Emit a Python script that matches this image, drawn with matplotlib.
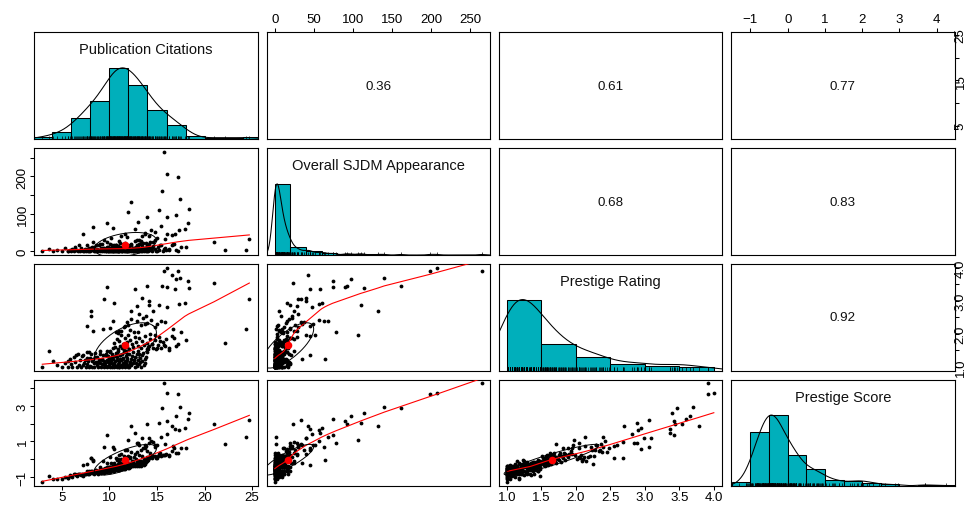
import numpy as np
import matplotlib
matplotlib.use("Agg")
import matplotlib.pyplot as plt

plt.rcParams['font.family'] = ['Liberation Sans', 'DejaVu Sans']

# ------------------------------------------------------------------ data
var_names = ["Publication Citations", "Overall SJDM Appearance",
             "Prestige Rating", "Prestige Score"]
# correlations shown in the upper panels (row-major upper triangle)
cor_values = [0.36, 0.61, 0.77, 0.68, 0.83, 0.92]

# group 1
cit_g1 = [2.95, 3.7, 4.1, 4.5, 5.0, 5.3, 5.6, 5.9, 6.0, 6.1,
          6.3, 6.4, 6.6, 6.7, 6.8, 6.9, 7.0, 7.1, 7.2, 7.3,
          7.4, 7.5, 7.6, 7.7, 7.8, 7.85, 7.95, 8.0, 8.1, 8.2,
          8.3, 8.35, 8.4, 8.5, 8.6, 8.7, 8.75, 8.8, 8.9, 9.0,
          9.05, 9.1, 9.2, 9.25, 9.3, 9.4, 9.45, 9.5, 9.6, 9.65,
          9.7, 9.8, 9.85, 9.9, 9.95, 10.0, 10.05, 10.1, 10.15, 10.2,
          10.25, 10.3, 10.35, 10.4, 10.45, 10.5, 10.55, 10.6, 10.65, 10.7,
          10.75, 10.8, 10.85, 10.9, 10.95, 11.0, 11.05, 11.1, 11.15, 11.2,
          11.25, 11.3, 11.35, 11.4, 11.45, 11.5, 11.55, 11.6, 11.65, 11.7,
          11.75, 11.8, 11.85, 11.9, 11.95, 10.02, 10.28, 10.52, 10.78, 11.02,
          11.28, 11.52, 11.78, 10.12, 10.62, 11.12, 11.62, 11.88, 12.05, 12.1,
          12.2, 12.25, 12.3, 12.4, 12.45, 12.5, 12.6, 12.65, 12.7, 12.8,
          12.85, 12.9, 13.0, 13.05, 13.1, 13.2, 13.25, 13.3, 13.4, 13.45,
          13.5, 13.6, 13.7, 13.75, 13.8, 13.9, 12.15, 12.55, 13.15, 14.05,
          14.2, 14.3, 14.5, 14.6, 14.8, 14.9, 15.1, 15.2, 15.4, 15.6,
          15.8, 15.9, 16.3, 17.2, 16.6]
sjdm_g1 = [0, 6, 0, 3, 0, 9, 0, 3, 0, 6,
           0, 12, 3, 0, 17, 0, 9, 3, 45, 0,
           6, 0, 15, 3, 0, 8, 6, 0, 9, 3,
           64, 0, 12, 3, 16, 0, 6, 0, 15, 3,
           0, 9, 0, 19, 6, 0, 3, 4, 0, 6,
           12, 3, 0, 10, 0, 6, 0, 9, 3, 0,
           17, 3, 0, 14, 6, 0, 9, 3, 0, 15,
           0, 6, 3, 0, 13, 6, 0, 12, 3, 0,
           9, 3, 0, 19, 6, 0, 3, 5, 0, 9,
           3, 0, 15, 6, 0, 3, 0, 8, 6, 0,
           11, 3, 0, 9, 0, 21, 6, 3, 0, 12,
           3, 0, 17, 6, 0, 7, 3, 9, 0, 6,
           10, 0, 3, 12, 0, 6, 18, 3, 0, 9,
           3, 0, 8, 6, 0, 15, 6, 0, 3, 0,
           9, 3, 0, 13, 6, 0, 12, 3, 17, 0,
           9, 3, 6, 0, 15]
rating_g1 = [1.00, 1.48, 1.18, 1.05, 1.00, 1.12, 1.00, 1.25, 1.08, 1.00,
             1.30, 1.15, 1.00, 1.40, 1.05, 1.20, 1.00, 1.33, 1.35, 1.10,
             1.22, 1.00, 1.45, 1.08, 1.18, 1.00, 1.28, 1.02, 1.38, 1.00,
             1.23, 1.12, 1.00, 1.42, 1.15, 1.05, 1.30, 1.00, 1.20, 1.10,
             1.48, 1.00, 1.25, 1.08, 1.35, 1.00, 1.18, 1.12, 1.40, 1.02,
             1.22, 1.00, 1.32, 1.15, 1.05, 1.28, 1.00, 1.45, 1.10, 1.20,
             1.00, 1.38, 1.05, 1.25, 1.12, 1.00, 1.33, 1.18, 1.42, 1.02,
             1.22, 1.00, 1.30, 1.08, 1.48, 1.15, 1.00, 1.25, 1.35, 1.05,
             1.20, 1.00, 1.40, 1.12, 1.28, 1.02, 1.45, 1.18, 1.00, 1.32,
             1.10, 1.22, 1.05, 1.38, 1.00, 1.15, 1.30, 1.08, 1.42, 1.00,
             1.25, 1.12, 1.48, 1.20, 1.02, 1.35, 1.05, 1.28, 1.00, 1.40,
             1.15, 1.25, 1.05, 1.33, 1.10, 1.45, 1.20, 1.00, 1.30, 1.12,
             1.38, 1.02, 1.22, 1.48, 1.08, 1.28, 1.15, 1.00, 1.35, 1.18,
             1.42, 1.05, 1.25, 1.12, 1.30, 1.45, 1.08, 1.22, 1.40, 1.55,
             1.62, 1.99, 1.70, 1.58, 1.80, 1.53, 1.66, 1.90, 1.57, 1.75,
             1.62, 1.84, 1.51, 1.68, 1.93]
score_g1 = [-1.30, -0.97, -1.10, -1.12, -1.11, -0.98, -1.05, -0.88, -0.97, -0.98,
            -0.83, -0.85, -0.94, -0.82, -0.84, -0.82, -0.88, -0.81, -0.31, -0.83,
            -0.82, -0.86, -0.65, -0.79, -0.82, -0.82, -0.74, -0.80, -0.66, -0.78,
            -0.06, -0.80, -0.81, -0.62, -0.63, -0.80, -0.65, -0.82, -0.65, -0.74,
            -0.55, -0.76, -0.65, -0.66, -0.57, -0.76, -0.65, -0.49, -0.54, -0.70,
            -0.47, -0.71, -0.55, -0.46, -0.68, -0.44, -0.70, -0.43, -0.62, -0.58,
            -0.48, -0.47, -0.64, -0.39, -0.47, -0.65, -0.45, -0.54, -0.43, -0.45,
            -0.52, -0.60, -0.46, -0.57, -0.26, -0.42, -0.60, -0.43, -0.40, -0.56,
            -0.45, -0.56, -0.37, -0.43, -0.40, -0.54, -0.31, -0.28, -0.54, -0.34,
            -0.47, -0.42, -0.44, -0.30, -0.51, -0.61, -0.52, -0.43, -0.39, -0.60,
            -0.33, -0.48, -0.29, -0.47, -0.63, -0.19, -0.41, -0.37, -0.50, -0.25,
            -0.40, -0.36, -0.39, -0.28, -0.41, -0.09, -0.34, -0.41, -0.29, -0.35,
            -0.14, -0.41, -0.29, -0.12, -0.36, -0.23, -0.13, -0.37, -0.20, -0.24,
            -0.14, -0.33, -0.13, -0.25, -0.18, -0.04, -0.43, -0.34, -0.18, -0.04,
            0.05, 0.22, 0.09, 0.15, 0.19, 0.05, 0.17, 0.27, 0.18, 0.22,
            0.21, 0.30, 0.19, 0.34, 0.46]

# group 2
cit_g2 = [5.6, 6.5, 7.2, 7.6, 7.9, 8.2, 8.5, 8.8, 9.0, 9.2,
          9.4, 9.6, 9.8, 9.9, 10.1, 10.2, 10.4, 10.5, 10.6, 10.8,
          10.9, 11.0, 11.1, 11.2, 11.3, 11.4, 11.5, 11.6, 11.7, 11.8,
          11.9, 11.95, 12.1, 12.2, 12.4, 12.5, 12.7, 12.8, 13.0, 13.1,
          13.3, 13.4, 13.6, 13.7, 13.9, 13.95, 14.1, 14.3, 14.5, 14.8,
          15.0, 15.3, 15.7, 16.3, 16.8, 17.0, 18.1, 22.1]
sjdm_g2 = [0, 2, 0, 5, 1, 12, 0, 3, 18, 2,
           7, 0, 25, 1, 4, 35, 0, 9, 3, 14,
           1, 6, 2, 40, 0, 11, 3, 22, 5, 1,
           8, 106, 2, 16, 4, 0, 28, 10, 3, 19,
           1, 13, 6, 45, 0, 7, 2, 24, 9, 52,
           1, 15, 5, 3, 20, 4, 12, 2]
rating_g2 = [1.18, 1.35, 1.05, 1.28, 1.45, 1.16, 1.30, 1.13, 1.40, 1.22,
             1.08, 1.35, 1.48, 1.18, 1.48, 1.25, 1.56, 1.72, 1.60, 1.85,
             1.54, 1.78, 1.64, 1.95, 1.58, 1.70, 1.52, 1.88, 1.66, 1.61,
             1.76, 1.97, 1.55, 1.82, 1.68, 1.59, 1.91, 1.74, 1.63, 1.86,
             1.57, 1.79, 1.67, 1.94, 1.53, 1.72, 1.60, 1.83, 1.69, 1.96,
             1.56, 1.77, 1.65, 1.58, 1.88, 1.63, 1.81, 1.71]
score_g2 = [-1.06, -0.87, -0.97, -0.76, -0.69, -0.69, -0.72, -0.74, -0.42, -0.67,
            -0.67, -0.59, -0.23, -0.63, -0.43, -0.20, -0.40, -0.21, -0.33, -0.07,
            -0.35, -0.17, -0.27, 0.30, -0.30, -0.12, -0.28, 0.11, -0.17, -0.23,
            -0.07, 1.10, -0.22, 0.08, -0.10, -0.18, 0.30, 0.03, -0.08, 0.22,
            -0.10, 0.15, 0.03, 0.60, -0.08, 0.10, 0.00, 0.37, 0.16, 0.79,
            0.06, 0.34, 0.21, 0.21, 0.60, 0.32, 0.60, 0.83]

# group 3
cit_g3 = [14.4, 15.0, 7.7, 8.3, 16.7, 17.5, 24.3, 11.5, 11.8, 12.3,
          12.6, 13.3, 13.7, 12.9, 12.2, 14.8, 10.4, 10.9, 10.1, 11.2,
          15.4, 13.0, 14.0, 11.0, 12.0, 9.3, 13.5, 10.7, 15.8, 11.6]
sjdm_g3 = [56, 35, 3, 24, 20, 10, 2, 12, 38, 18,
           8, 26, 49, 15, 6, 30, 63, 10, 20, 5,
           68, 78, 14, 28, 4, 9, 22, 16, 33, 45]
rating_g3 = [2.42, 2.30, 2.25, 2.09, 2.14, 2.04, 2.14, 2.20, 2.35, 2.45,
             2.05, 2.28, 2.30, 2.38, 2.12, 2.22, 2.40, 2.02, 2.18, 2.10,
             2.40, 2.04, 2.33, 2.08, 2.26, 2.15, 2.48, 2.06, 2.36, 2.24]
score_g3 = [1.02, 0.79, -0.29, -0.08, 0.72, 0.64, 1.26, 0.16, 0.54, 0.42,
            0.14, 0.52, 0.82, 0.41, 0.12, 0.68, 0.70, -0.01, 0.10, 0.00,
            1.24, 0.93, 0.48, 0.22, 0.15, -0.12, 0.60, 0.05, 0.88, 0.54]

# group 4
cit_g4 = [14.2, 14.2, 15.2, 16.1, 12.9, 14.6, 12.3, 13.1, 13.8, 8.1, 8.1, 17.9, 17.35, 10.5]
sjdm_g4 = [40, 19, 110, 47, 29, 25, 132, 30, 22, 5, 8, 60, 57, 15]
rating_g4 = [2.99, 2.88, 2.88, 2.82, 2.85, 2.68, 2.70, 2.60, 2.55, 2.68, 2.55, 2.95, 2.90, 2.95]
score_g4 = [1.21, 0.93, 2.01, 1.39, 0.90, 0.94, 1.88, 0.81, 0.76, 0.09, 0.06, 1.77, 1.66, 0.57]

# group 5
cit_g5 = [15.7, 16.0, 17.2, 17.0, 17.4, 18.3, 21.0, 16.6, 15.5, 18.4,
          9.8, 13.9, 16.0, 12.7, 9.4, 13.4, 24.7, 16.9]
sjdm_g5 = [265, 207, 199, 97, 140, 74, 23, 42, 161, 114,
           74, 92, 90, 58, 30, 40, 33, 45]
rating_g5 = [3.92, 4.00, 3.92, 3.66, 3.70, 3.59, 3.54, 3.79, 3.46, 3.39,
             3.42, 3.44, 3.42, 3.37, 3.06, 3.09, 3.06, 3.36]
score_g5 = [4.26, 3.70, 3.69, 2.44, 2.96, 2.28, 1.97, 1.87, 2.88, 2.62,
            1.37, 1.97, 2.14, 1.45, 0.68, 1.19, 2.19, 1.72]

# axis ticks and tick labels (horizontal axes label all, vertical alternate)
ticks = [[5, 10, 15, 20, 25],
         [0, 50, 100, 150, 200, 250],
         [1.0, 1.5, 2.0, 2.5, 3.0, 3.5, 4.0],
         [-1, 0, 1, 2, 3, 4]]
xlabels = [["5", "10", "15", "20", "25"],
           ["0", "50", "100", "150", "200", "250"],
           ["1.0", "1.5", "2.0", "2.5", "3.0", "3.5", "4.0"],
           ["\u22121", "0", "1", "2", "3", "4"]]
ylabels = [["5", "", "15", "", "25"],
           ["0", "", "100", "", "200", ""],
           ["1.0", "", "2.0", "", "3.0", "", "4.0"],
           ["\u22121", "", "1", "", "3", ""]]
bin_width = [2, 20, 0.5, 0.5]

# ------------------------------------------------------------------ style
HIST_COL = "#00AFBB"
SMOOTH_COL = "red"
FS_TICK = 9.5
FS_NAME = 10.5
FS_COR = 9.6

data = [np.array(cit_g1 + cit_g2 + cit_g3 + cit_g4 + cit_g5, float),
        np.array(sjdm_g1 + sjdm_g2 + sjdm_g3 + sjdm_g4 + sjdm_g5, float),
        np.array(rating_g1 + rating_g2 + rating_g3 + rating_g4 + rating_g5, float),
        np.array(score_g1 + score_g2 + score_g3 + score_g4 + score_g5, float)]


def lim(v):
    lo, hi = v.min(), v.max()
    r = hi - lo
    return lo - 0.04 * r, hi + 0.04 * r


def lowess(x, y, f=2 / 3, it=3):
    idx = np.argsort(x, kind="mergesort")
    xs = x[idx]
    ys = y[idx]
    n = len(xs)
    ns = max(min(int(round(f * n)), n), 2)
    rw = np.ones(n)
    fit = np.zeros(n)
    rng = xs[-1] - xs[0]
    for k in range(it + 1):
        for i in range(n):
            d = np.abs(xs - xs[i])
            h = max(np.partition(d, ns - 1)[ns - 1], 1e-12)
            u = d / h
            w = np.where(u < 0.999, (1 - np.clip(u, 0, 1) ** 3) ** 3, 0.0)
            w = np.where(u <= 0.001, 1.0, w) * rw
            sw = w.sum()
            if sw <= 0:
                fit[i] = ys[i]
                continue
            a = w / sw
            xm = (a * xs).sum()
            var = (a * (xs - xm) ** 2).sum()
            if np.sqrt(var) > 0.001 * rng:
                b = (a * (xs - xm) * ys).sum() / var
                fit[i] = (a * ys).sum() + b * (xs[i] - xm)
            else:
                fit[i] = (a * ys).sum()
        if k == it:
            break
        res = ys - fit
        cmad = 6 * np.median(np.abs(res))
        if cmad < 1e-7 * np.mean(np.abs(ys)):
            break
        r = np.abs(res) / cmad
        rw = np.where(r < 1, (1 - r ** 2) ** 2, 0.0)
    return xs, fit


def ellipse(xm, ym, xs, ys, r, segments=51):
    ang = np.arange(segments + 1) * 2 * np.pi / segments
    unit = np.column_stack([np.cos(ang), np.sin(ang)])
    th = np.sign(r) / np.sqrt(2) if abs(r) > 0 else 1 / np.sqrt(2)
    shape = np.diag([np.sqrt(1 + r), np.sqrt(1 - r)]) @ np.array([[th, th], [-th, th]])
    e = unit @ shape
    return e[:, 0] * xs + xm, e[:, 1] * ys + ym


def density(x, adjust=1.2, n=512, cut=3):
    q75, q25 = np.percentile(x, [75, 25])
    s = min(np.std(x, ddof=1), (q75 - q25) / 1.34)
    bw = 1.06 * s * len(x) ** (-0.2) * adjust
    g = np.linspace(x.min() - cut * bw, x.max() + cut * bw, n)
    d = np.exp(-0.5 * ((g[:, None] - x[None, :]) / bw) ** 2).sum(axis=1)
    return g, d / d.max()


W, H = 971.0, 506.0
col_left = [34.0, 266.5, 498.5, 731.0]
row_top = [33.3, 149.3, 265.0, 380.5]
pw, ph = 223.6, 106.7

fig = plt.figure(figsize=(W / 100, H / 100), dpi=100)
fig.patch.set_facecolor("white")

cor_k = 0
cor_map = {}
for i in range(4):
    for j in range(i + 1, 4):
        cor_map[(i, j)] = cor_values[cor_k]
        cor_k += 1

TL = 2.9
for i in range(4):
    for j in range(4):
        ax = fig.add_axes([col_left[j] / W, 1 - (row_top[i] + ph) / H, pw / W, ph / H])
        for sp in ax.spines.values():
            sp.set_linewidth(0.8)
            sp.set_color("black")
        x = data[j]
        y = data[i]
        ax.set_xlim(*lim(x))
        if i == j:
            ax.set_ylim(0, 1.5)
            w = bin_width[j]
            start = np.floor(x.min() / w) * w
            edges = np.arange(start, x.max() + w * 0.999, w)
            if edges[-1] < x.max():
                edges = np.append(edges, edges[-1] + w)
            cnt = np.histogram(-x, bins=-edges[::-1])[0][::-1]
            hh = cnt / cnt.max()
            ax.bar(edges[:-1], hh, width=np.diff(edges), align="edge",
                   color=HIST_COL, edgecolor="black", linewidth=0.75, zorder=2)
            g, d = density(x)
            ax.plot(g, d, color="black", lw=0.75, zorder=3)
            ax.vlines(x, 0, 0.045, color="black", lw=0.5, zorder=4)
            ax.text(0.5, 0.84, var_names[i], transform=ax.transAxes,
                    ha="center", va="center", fontsize=FS_NAME, color="#111111")
        elif i < j:
            ax.set_ylim(*lim(y))
            ax.text(0.5, 0.5, "%.2f" % cor_map[(i, j)], transform=ax.transAxes,
                    ha="center", va="center", fontsize=FS_COR, color="#111111")
        else:
            ax.set_ylim(*lim(y))
            ax.scatter(x, y, s=7.5, color="black", linewidths=0, zorder=2)
            lx, ly = lowess(x, y)
            ax.plot(lx, ly, color=SMOOTH_COL, lw=0.8, zorder=3)
            xm, ym = x.mean(), y.mean()
            r = np.corrcoef(x, y)[0, 1]
            ex, ey = ellipse(xm, ym, x.std(ddof=1), y.std(ddof=1), r)
            ax.scatter([xm], [ym], s=30, color=SMOOTH_COL, linewidths=0, zorder=4)
            ax.plot(ex, ey, color="black", lw=0.7, zorder=4)

        # axes (alternate, as in R pairs)
        ax.set_xticks([])
        ax.set_yticks([])
        if i == 0 and j % 2 == 1:
            ax.set_xticks(ticks[j])
            ax.set_xticklabels(xlabels[j])
            ax.tick_params(axis="x", top=True, bottom=False, labeltop=True,
                           labelbottom=False, length=TL, width=0.75, pad=2.5,
                           labelsize=FS_TICK)
        if i == 3 and j % 2 == 0:
            ax.set_xticks(ticks[j])
            ax.set_xticklabels(xlabels[j])
            ax.tick_params(axis="x", bottom=True, labelbottom=True, length=TL,
                           width=0.75, pad=0.5, labelsize=FS_TICK)
        if j == 0 and i % 2 == 1:
            ax.set_yticks(ticks[i])
            ax.set_yticklabels(ylabels[i], rotation=90, va="center")
            ax.tick_params(axis="y", left=True, labelleft=True, length=TL,
                           width=0.75, pad=1.0, labelsize=FS_TICK)
        if j == 3 and i % 2 == 0:
            ax.set_yticks(ticks[i])
            ax.set_yticklabels(ylabels[i], rotation=90, va="center")
            ax.tick_params(axis="y", right=True, left=False, labelright=True,
                           labelleft=False, length=TL, width=0.75, pad=-2.9,
                           labelsize=FS_TICK)

fig.savefig("out.png", dpi=100, facecolor="white")
